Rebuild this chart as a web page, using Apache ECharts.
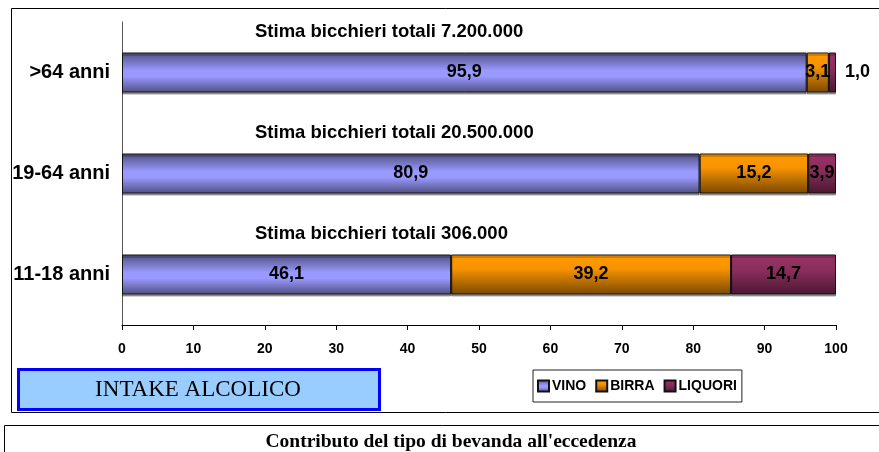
<!DOCTYPE html>
<html>
<head>
<meta charset="utf-8">
<script src="https://cdn.jsdelivr.net/npm/echarts@6/dist/echarts.min.js"></script>
<style>
  html, body { margin: 0; padding: 0; background: #fff; }
  #chart { width: 879px; height: 452px; }
</style>
</head>
<body>
<div id="chart"></div>
<script>
  // data, bottom to top as echarts draws a category y axis
  var categories = ['11-18 anni', '19-64 anni', '>64 anni']
  var vino = [46.1, 80.9, 95.9]
  var birra = [39.2, 15.2, 3.1]
  var liquori = [14.7, 3.9, 1.0]
  var totals = ['306.000', '20.500.000', '7.200.000']

  var myChart = echarts.init(document.getElementById('chart'))

  var fmt = function (p) {
    return p.value.toFixed(1).replace('.', ',')
  }

  var grad = function (stops) {
    return new echarts.graphic.LinearGradient(0, 0, 0, 1, stops)
  }

  var labelStyle = {
    show: true,
    position: 'inside',
    formatter: fmt,
    color: '#000',
    fontFamily: 'Arial, Liberation Sans',
    fontWeight: 'bold',
    fontSize: 18
  }

  var makeSeries = function (name, data, color) {
    return {
      name: name,
      type: 'bar',
      stack: 'tot',
      barWidth: 40,
      data: data,
      label: labelStyle,
      itemStyle: {
        color: color,
        borderColor: '#111',
        borderWidth: 1,
        shadowColor: 'rgba(0,0,0,0.35)',
        shadowOffsetY: 2
      },
      emphasis: { disabled: true }
    }
  }

  var liquoriData = liquori.map(function (v, i) {
    if (i === 2) {
      return { value: v, label: { position: 'right', distance: 9 } }
    }
    return v
  })

  var option = {
    animation: false,
    legend: {
      left: 533,
      top: 370,
      padding: [9, 5, 9, 4],
      borderColor: '#222',
      borderWidth: 1,
      itemWidth: 11,
      itemHeight: 11,
      itemGap: 9,
      icon: 'rect',
      textStyle: {
        fontFamily: 'Arial, Liberation Sans',
        fontWeight: 'bold',
        fontSize: 14,
        color: '#000',
        padding: [0, 0, 0, -2]
      },
      data: ['VINO', 'BIRRA', 'LIQUORI']
    },
    grid: {
      left: 122,
      right: 43,
      top: 22,
      bottom: 127
    },
    xAxis: {
      type: 'value',
      min: 0,
      max: 100,
      interval: 10,
      splitLine: { show: false },
      axisLine: { show: true, lineStyle: { color: '#000', width: 1 } },
      axisTick: { show: true, length: 5, lineStyle: { color: '#000' } },
      axisLabel: {
        margin: 17,
        color: '#000',
        fontFamily: 'Arial, Liberation Sans',
        fontWeight: 'bold',
        fontSize: 14
      }
    },
    yAxis: {
      type: 'category',
      data: categories,
      axisLine: { show: true, onZero: false, lineStyle: { color: '#555' } },
      axisTick: { show: false },
      axisLabel: {
        margin: 12,
        color: '#000',
        fontFamily: 'Arial, Liberation Sans',
        fontWeight: 'bold',
        fontSize: 20
      }
    },
    series: [
      makeSeries('VINO', vino, grad([
        { offset: 0, color: '#4f4f80' },
        { offset: 0.45, color: '#9999ff' },
        { offset: 0.6, color: '#9999ff' },
        { offset: 1, color: '#4f4f80' }
      ])),
      makeSeries('BIRRA', birra, grad([
        { offset: 0, color: '#ff9900' },
        { offset: 0.35, color: '#f89400' },
        { offset: 1, color: '#7a4800' }
      ])),
      makeSeries('LIQUORI', liquoriData, grad([
        { offset: 0, color: '#993366' },
        { offset: 0.4, color: '#8a2e5c' },
        { offset: 1, color: '#4a1832' }
      ]))
    ]
  }

  myChart.setOption(option)

  // frames, title boxes and the "Stima" notes above each bar
  var graphics = [
    {
      type: 'rect',
      silent: true,
      shape: { x: 11.5, y: 8.5, width: 900, height: 404 },
      style: { fill: null, stroke: '#000', lineWidth: 1 }
    },
    {
      type: 'rect',
      silent: true,
      shape: { x: 4.5, y: 425.5, width: 900, height: 60 },
      style: { fill: null, stroke: '#000', lineWidth: 1 }
    },
    {
      type: 'text',
      silent: true,
      x: 451,
      y: 442,
      style: {
        text: "Contributo del tipo di bevanda all'eccedenza",
        fill: '#000',
        font: 'bold 19.5px "Liberation Serif", "Times New Roman", serif',
        align: 'center',
        verticalAlign: 'middle'
      }
    },
    {
      type: 'rect',
      silent: true,
      shape: { x: 18.5, y: 369.5, width: 361, height: 40 },
      style: { fill: '#99ccff', stroke: '#0000ff', lineWidth: 3 }
    },
    {
      type: 'text',
      silent: true,
      x: 198,
      y: 390,
      style: {
        text: 'INTAKE ALCOLICO',
        fill: '#000',
        font: '23px "Liberation Serif", "Times New Roman", serif',
        align: 'center',
        verticalAlign: 'middle'
      }
    }
  ]

  categories.forEach(function (c, i) {
    var pos = myChart.convertToPixel({ gridIndex: 0 }, [0, i])
    graphics.push({
      type: 'text',
      silent: true,
      x: 255,
      y: pos[1] - 41,
      style: {
        text: 'Stima bicchieri totali ' + totals[i],
        fill: '#000',
        font: 'bold 18.5px Arial, "Liberation Sans", sans-serif',
        align: 'left',
        verticalAlign: 'middle'
      }
    })
  })

  myChart.setOption({ graphic: graphics })
</script>
</body>
</html>
